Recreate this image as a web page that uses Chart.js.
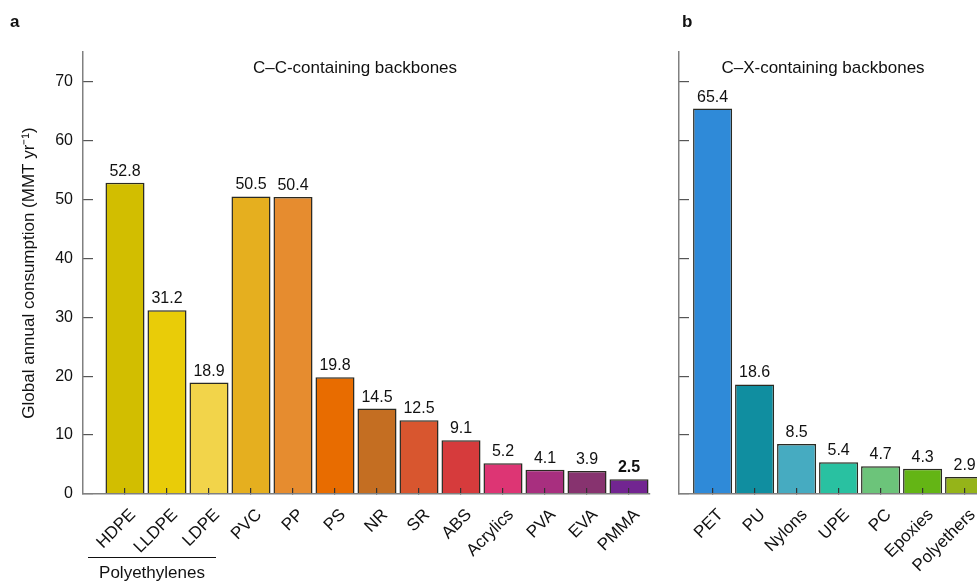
<!DOCTYPE html>
<html>
<head>
<meta charset="utf-8">
<script src="https://cdn.jsdelivr.net/npm/chart.js@4"></script>
<style>
  html, body { margin: 0; padding: 0; background: #fff; overflow: hidden; width: 977px; height: 583px; }
  .panel { position: absolute; top: 0; height: 583px; }
  #pa { left: 0; width: 670px; }
  #pb { left: 670px; width: 340px; }
</style>
</head>
<body>
<div class="panel" id="pa"><canvas id="ca"></canvas></div>
<div class="panel" id="pb"><canvas id="cb"></canvas></div>
<script>
// ---- data ----
const ccCategories = ['HDPE','LLDPE','LDPE','PVC','PP','PS','NR','SR','ABS','Acrylics','PVA','EVA','PMMA'];
const ccValues     = [52.8, 31.2, 18.9, 50.5, 50.4, 19.8, 14.5, 12.5, 9.1, 5.2, 4.1, 3.9, 2.5];
const cxCategories = ['PET','PU','Nylons','UPE','PC','Epoxies','Polyethers'];
const cxValues     = [65.4, 18.6, 8.5, 5.4, 4.7, 4.3, 2.9];
const yTickValues  = [0, 10, 20, 30, 40, 50, 60, 70];
const groupLabel   = 'Polyethylenes';
const groupMembers = ['HDPE','LLDPE','LDPE'];

// ---- styles ----
const ccColors = ['#d2be00','#e9cc08','#f2d44a','#e5af1f','#e68c2f','#e86c00','#c46e22','#d8562f','#d63b3c','#dd3574','#a82f7f','#87336f','#722591'];
const cxColors = ['#2f8ad8','#108ea0','#46abc1','#29c1a1','#6cc47a','#64b515','#95b419'];
const FONT = '"Liberation Sans", Arial, Helvetica, sans-serif';
Chart.defaults.font.family = FONT;
Chart.defaults.color = '#111';

const valueLabels = {
  id: 'valueLabels',
  afterDatasetsDraw(chart, args, opts) {
    const ctx = chart.ctx;
    const meta = chart.getDatasetMeta(0);
    const vals = chart.data.datasets[0].data;
    ctx.save();
    ctx.fillStyle = '#111';
    ctx.textAlign = 'center';
    ctx.textBaseline = 'alphabetic';
    meta.data.forEach((bar, i) => {
      const bold = opts.boldIndex === i;
      ctx.font = (bold ? 'bold ' : '') + '16px ' + FONT;
      ctx.fillText(vals[i].y.toFixed(1), bar.x, bar.y - 7);
    });
    ctx.restore();
  }
};

const decor = {
  id: 'decor',
  afterDraw(chart, args, opts) {
    const ctx = chart.ctx;
    ctx.save();
    ctx.fillStyle = '#111';
    ctx.font = 'bold 17px ' + FONT;
    ctx.textAlign = 'left';
    ctx.textBaseline = 'alphabetic';
    ctx.fillText(opts.letter, opts.letterX, 27);
    ctx.font = '17px ' + FONT;
    ctx.textAlign = 'center';
    ctx.fillText(opts.title, opts.titleX, 72.5);
    if (opts.group) {
      const xs = chart.scales.x;
      const i0 = ccCategories.indexOf(groupMembers[0]);
      const i1 = ccCategories.indexOf(groupMembers[groupMembers.length - 1]);
      const x0 = xs.getPixelForValue(i0) - 37;
      const x1 = xs.getPixelForValue(i1) + 7;
      ctx.strokeStyle = '#111';
      ctx.lineWidth = 1.2;
      ctx.beginPath();
      ctx.moveTo(x0, 557.5);
      ctx.lineTo(x1, 557.5);
      ctx.stroke();
      ctx.fillText(groupLabel, (x0 + x1) / 2, 578);
    }
    ctx.restore();
  }
};

function makeChart(canvasId, cats, vals, colors, cfg) {
  return new Chart(document.getElementById(canvasId), {
    type: 'bar',
    data: {
      datasets: [{
        data: vals.map((v, i) => ({ x: i, y: v })),
        backgroundColor: colors,
        borderColor: '#2a2a22',
        borderWidth: 1.5,
        barPercentage: 0.93,
        categoryPercentage: 1
      }]
    },
    options: {
      responsive: true,
      maintainAspectRatio: false,
      animation: false,
      layout: { padding: { top: 52, right: cfg.padRight, left: 0, bottom: 0 } },
      plugins: {
        legend: { display: false },
        tooltip: { enabled: false },
        valueLabels: { boldIndex: cfg.boldIndex },
        decor: cfg.decor
      },
      scales: {
        x: {
          type: 'linear',
          offset: false,
          min: cfg.xMin,
          max: cfg.xMax,
          afterBuildTicks: s => { s.ticks = cats.map((_, i) => ({ value: i })); },
          afterFit: s => { s.height = 89; },
          ticks: {
            autoSkip: false,
            minRotation: 45,
            maxRotation: 45,
            padding: 17,
            labelOffset: 8,
            color: '#111',
            font: { size: 17 },
            callback: v => cats[v] ?? ''
          },
          grid: { drawOnChartArea: false, offset: false, tickLength: -6, color: '#333', lineWidth: 1.2, z: 1 },
          border: { color: '#808080', width: 1.5, z: 1 }
        },
        y: {
          min: 0,
          max: 75,
          afterBuildTicks: s => { s.ticks = yTickValues.map(v => ({ value: v })); },
          afterFit: s => { s.width = cfg.yWidth; },
          ticks: {
            display: cfg.yLabels,
            padding: 20,
            color: '#111',
            font: { size: 16 }
          },
          grid: { drawOnChartArea: false, tickLength: -10, color: '#555', lineWidth: 1.2 },
          border: { color: '#808080', width: 1.5 },
          title: {
            display: cfg.yLabels,
            text: 'Global annual consumption (MMT yr\u207B\u00B9)',
            color: '#111',
            font: { size: 17 },
            padding: { top: 19, bottom: 0 }
          }
        }
      }
    },
    plugins: [valueLabels, decor]
  });
}

makeChart('ca', ccCategories, ccValues, ccColors, {
  xMin: -1, xMax: 12.5, yWidth: 83, yLabels: true, padRight: 20, boldIndex: 12,
  decor: { letter: 'a', letterX: 10, title: 'C\u2013C-containing backbones', titleX: 355, group: true }
});
makeChart('cb', cxCategories, cxValues, cxColors, {
  xMin: -0.8, xMax: 6.5, yWidth: 9, yLabels: false, padRight: 24.4, boldIndex: -1,
  decor: { letter: 'b', letterX: 12, title: 'C\u2013X-containing backbones', titleX: 153, group: false }
});
</script>
</body>
</html>
